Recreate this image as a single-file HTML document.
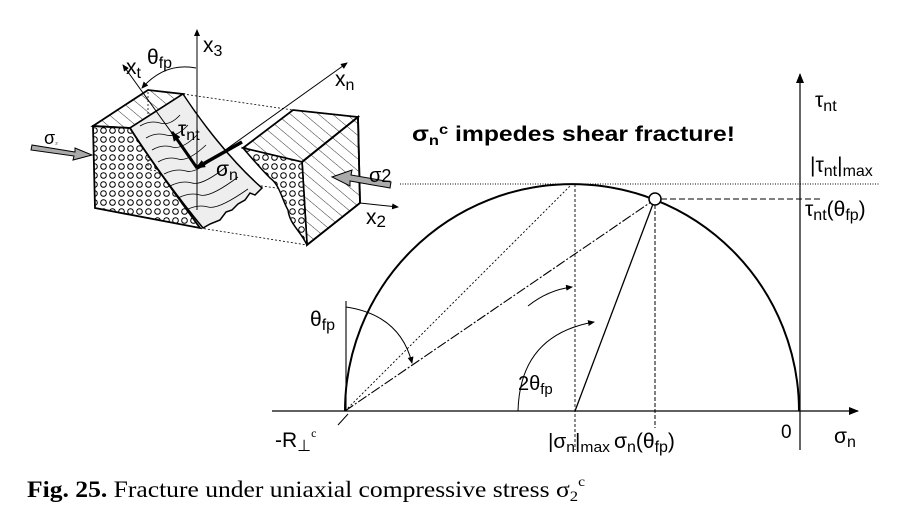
<!DOCTYPE html>
<html><head><meta charset="utf-8"><style>
html,body{margin:0;padding:0;background:#fff;}
svg{display:block;}
</style></head><body>
<svg width="900" height="511" viewBox="0 0 900 511" xmlns="http://www.w3.org/2000/svg" font-family="Liberation Sans, sans-serif">
<defs>
<pattern id="dots" width="9" height="9" patternUnits="userSpaceOnUse">
<circle cx="4.5" cy="4.5" r="2.8" fill="none" stroke="#000" stroke-width="1"/>
</pattern>
<pattern id="hatch" width="9" height="9" patternUnits="userSpaceOnUse" patternTransform="rotate(-50)">
<line x1="0" y1="0" x2="0" y2="9" stroke="#000" stroke-width="0.8"/>
</pattern>
<marker id="ah" markerWidth="10" markerHeight="8" refX="9" refY="4" orient="auto" markerUnits="userSpaceOnUse">
<path d="M0,0 L10,4 L0,8 Z" fill="#000"/>
</marker>
<marker id="ahs" markerWidth="7" markerHeight="6" refX="6" refY="3" orient="auto" markerUnits="userSpaceOnUse">
<path d="M0,0 L7,3 L0,6 Z" fill="#000"/>
</marker>
</defs>

<g stroke="#000" fill="none">
<line x1="183" y1="94" x2="293" y2="110" stroke-dasharray="2,2" stroke-width="0.8"/>
<line x1="200" y1="228" x2="307" y2="245" stroke-dasharray="2,2" stroke-width="0.8"/>
<line x1="150" y1="170" x2="360" y2="200" stroke-dasharray="2,2" stroke-width="0.8"/>
<line x1="148" y1="92" x2="148" y2="170" stroke-dasharray="2,2" stroke-width="0.8"/>
<line x1="200" y1="168" x2="347" y2="63" stroke-width="1" marker-end="url(#ahs)"/>
<path d="M93,126 L148,90 L183,94 L130,128 Z" fill="url(#hatch)" stroke-width="1.8"/>
<path d="M183,94 C200,120 230,160 262,188 L255,195 L250,193 L245,200 L238,204 L232,210 L226,212 L220,220 L210,224 L203,228 C180,200 150,160 130,128 Z" fill="#eee" stroke-width="1.5"/>
<g stroke-width="0.8">
<path d="M140,126 q10,-6 20,-3 t20,-8"/><path d="M146,138 q10,-6 20,-3 t22,-10"/>
<path d="M152,150 q10,-6 20,-3 t25,-12"/><path d="M158,162 q10,-6 20,-3 t28,-14"/>
<path d="M164,174 q12,-6 22,-3 t30,-15"/><path d="M170,186 q12,-6 22,-3 t34,-16"/>
<path d="M178,198 q12,-6 22,-3 t38,-18"/><path d="M186,210 q12,-6 22,-3 t40,-18"/>
</g>
<path d="M93,126 L130,128 C150,160 180,200 200,228 L95,208 Z" fill="url(#dots)" stroke-width="1.8"/>
<path d="M243,148 L293,110 L358,117 L302,162 Z" fill="url(#hatch)" stroke-width="1.8"/>
<path d="M302,162 L358,117 L360,203 L307,245 Z" fill="#fff" stroke-width="1.8"/>
<path d="M302,162 L358,117 L360,203 L307,245 Z" fill="url(#hatch)" stroke-width="1.8"/>
<path d="M243,148 L302,162 L307,245 C300,230 290,225 288,210 C282,200 280,185 270,178 C262,170 255,162 243,148 Z" fill="#fff" stroke="none"/>
<path d="M243,148 L302,162 L307,245 C300,230 290,225 288,210 C282,200 280,185 270,178 C262,170 255,162 243,148 Z" fill="url(#dots)" stroke-width="1.5"/>
<line x1="197" y1="210" x2="197" y2="30" stroke-width="1" marker-end="url(#ahs)"/>
<line x1="197" y1="168" x2="123" y2="65" stroke-width="1" marker-end="url(#ahs)"/>
<path d="M196,68 Q165,62 142,88" stroke-width="0.9" marker-end="url(#ahs)"/>
<line x1="197" y1="168" x2="172" y2="132" stroke-width="3" marker-end="url(#ah)"/>
<line x1="242" y1="142" x2="196" y2="168" stroke-width="3.5" marker-end="url(#ah)"/>
<path d="M32,145 L75,152 L75,148 L92,155 L73,160 L74,156 L31,150 Z" fill="#aaa" stroke-width="1"/>
<path d="M390,188 L350,181 L350,186 L332,177 L352,170 L351,175 L391,182 Z" fill="#aaa" stroke-width="1"/>
<line x1="360" y1="203" x2="398" y2="207" stroke-width="1" marker-end="url(#ahs)"/>
</g>
<text x="203" y="52" font-size="21">x<tspan font-size="16" dy="4">3</tspan></text>
<text x="126" y="74" font-size="21">x<tspan font-size="16" dy="4">t</tspan></text>
<text x="147" y="64" font-size="21">θ<tspan font-size="16" dy="4">fp</tspan></text>
<text x="335" y="86" font-size="21">x<tspan font-size="16" dy="4">n</tspan></text>
<text x="178" y="136" font-size="21">τ<tspan font-size="16" dy="4">nt</tspan></text>
<text x="216" y="176" font-size="21">σ<tspan font-size="16" dy="4">n</tspan></text>
<text x="44" y="144" font-size="18">σ<tspan font-size="7">₂</tspan></text>
<text x="369" y="182" font-size="20">σ<tspan font-size="18">2</tspan></text>
<text x="366" y="224" font-size="21">x<tspan font-size="17" dy="3">2</tspan></text>

<g stroke="#000" fill="none">
<line x1="272" y1="411" x2="858" y2="411" stroke-width="1.2" marker-end="url(#ah)"/>
<line x1="800" y1="450" x2="800" y2="74" stroke-width="1.2" marker-end="url(#ah)"/>
<path d="M345,411 A227,227 0 0 1 799,411" stroke-width="2"/>
<line x1="400" y1="184" x2="880" y2="184" stroke-dasharray="1,1.5" stroke-width="0.9"/>
<line x1="575" y1="184" x2="575" y2="450" stroke-dasharray="3,2" stroke-width="0.9"/>
<line x1="655" y1="205" x2="655" y2="428" stroke-dasharray="4,2" stroke-width="1"/>
<line x1="661" y1="199" x2="820" y2="199" stroke-dasharray="6,3" stroke-width="1"/>
<line x1="345" y1="411" x2="572" y2="184" stroke-dasharray="2,2" stroke-width="0.9"/>
<line x1="345" y1="411" x2="651" y2="202" stroke-dasharray="10,2,2,2" stroke-width="1.1"/>
<line x1="575" y1="411" x2="653" y2="204" stroke-width="1.3"/>
<line x1="346" y1="411" x2="346" y2="301" stroke-width="1.1"/>
<line x1="338" y1="425" x2="348" y2="414" stroke-width="1"/>
<path d="M346,307 Q400,315 412,363" stroke-width="1" marker-end="url(#ahs)"/>
<path d="M518,411 Q520,335 594,322" stroke-width="1" marker-end="url(#ahs)"/>
<path d="M528,306 Q548,290 572,287" stroke-width="1" marker-end="url(#ahs)"/>
<circle cx="655" cy="199" r="6" fill="#fff" stroke-width="1.5"/>
</g>
<text x="412" y="141" font-size="21" font-weight="bold" textLength="323" lengthAdjust="spacingAndGlyphs">σ<tspan font-size="14" dy="4">n</tspan><tspan font-size="14" dy="-11">c</tspan><tspan dy="7"> impedes shear fracture!</tspan></text>
<text x="815" y="107" font-size="21">τ<tspan font-size="16" dy="4">nt</tspan></text>
<text x="810" y="172" font-size="21">|τ<tspan font-size="16" dy="4">nt</tspan><tspan dy="-4">|</tspan><tspan font-size="16" dy="4">max</tspan></text>
<text x="805" y="216" font-size="21">τ<tspan font-size="16" dy="4">nt</tspan><tspan dy="-4">(θ</tspan><tspan font-size="16" dy="4">fp</tspan><tspan dy="-4">)</tspan></text>
<text x="310" y="326" font-size="21">θ<tspan font-size="16" dy="4">fp</tspan></text>
<text x="518" y="390" font-size="20">2θ<tspan font-size="15" dy="4">fp</tspan></text>
<text x="275" y="447" font-size="21">-R<tspan font-size="16" dy="4">⊥</tspan><tspan font-size="12" dy="-14" font-family="Liberation Serif, serif">c</tspan></text>
<text x="548" y="448" font-size="20" textLength="62" lengthAdjust="spacingAndGlyphs">|σ<tspan font-size="15" dy="4">n</tspan><tspan dy="-4">|</tspan><tspan font-size="15" dy="4">max</tspan></text>
<text x="614" y="448" font-size="21">σ<tspan font-size="16" dy="4">n</tspan><tspan dy="-4">(θ</tspan><tspan font-size="16" dy="4">fp</tspan><tspan dy="-4">)</tspan></text>
<text x="781" y="438" font-size="19">0</text>
<text x="834" y="443" font-size="21">σ<tspan font-size="16" dy="4">n</tspan></text>

<text x="27" y="497" font-size="23" font-family="Liberation Serif, serif" textLength="558" lengthAdjust="spacingAndGlyphs"><tspan font-weight="bold">Fig. 25.</tspan> Fracture under uniaxial compressive stress σ<tspan font-size="15" dy="4">2</tspan><tspan font-size="14" dy="-15">c</tspan></text>
</svg>
</body></html>
